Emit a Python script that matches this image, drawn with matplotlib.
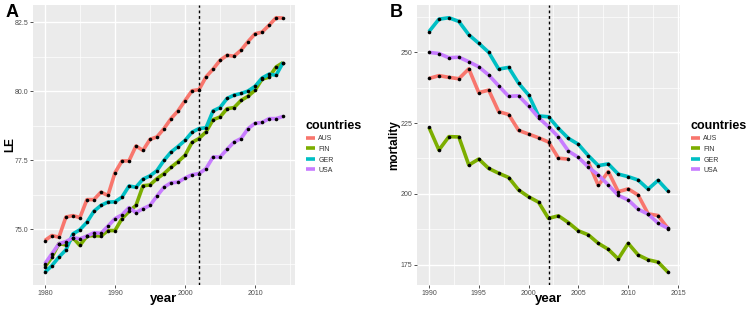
import numpy as np
import matplotlib
matplotlib.use("Agg")
from matplotlib import pyplot as plt
from matplotlib.ticker import FormatStrFormatter, MultipleLocator

countries = ['AUS', 'FIN', 'GER', 'USA']
colors = ['#F8766D', '#7CAE00', '#00BFC4', '#C77CFF']

# panel A: life expectancy 1980-2014
years_le = np.arange(1980, 2015)
le_aus = [74.6, 74.78, 74.72, 75.45, 75.5, 75.43, 76.08, 76.08, 76.35, 76.23,
          77.05, 77.48, 77.48, 78.02, 77.86, 78.26, 78.35, 78.65, 79.01, 79.29,
          79.66, 80.02, 80.06, 80.52, 80.8, 81.12, 81.3, 81.27, 81.49, 81.8,
          82.08, 82.14, 82.39, 82.66, 82.65]
le_fin = [73.64, 74.0, 74.49, 74.44, 74.7, 74.42, 74.76, 74.78, 74.76, 74.96,
          74.96, 75.39, 75.65, 75.87, 76.58, 76.61, 76.84, 77.02, 77.25, 77.45,
          77.68, 78.15, 78.29, 78.53, 78.97, 79.07, 79.37, 79.41, 79.67, 79.82,
          80.04, 80.44, 80.51, 80.88, 81.04]
le_ger = [73.45, 73.69, 74.0, 74.26, 74.84, 74.99, 75.26, 75.66, 75.87, 75.99,
          76.0, 76.17, 76.57, 76.53, 76.82, 76.94, 77.13, 77.5, 77.8, 78.0,
          78.22, 78.52, 78.65, 78.68, 79.29, 79.41, 79.74, 79.86, 79.92, 80.01,
          80.18, 80.48, 80.62, 80.58, 81.04]
le_usa = [73.76, 74.12, 74.48, 74.56, 74.7, 74.66, 74.76, 74.88, 74.86, 75.12,
          75.39, 75.53, 75.79, 75.61, 75.75, 75.87, 76.21, 76.53, 76.69, 76.71,
          76.86, 76.98, 77.02, 77.2, 77.62, 77.62, 77.9, 78.16, 78.29, 78.65,
          78.84, 78.87, 79.01, 79.01, 79.09]

# panel B: mortality 1990-2014 (AUS 2005 missing)
years_mo = np.arange(1990, 2015)
mo_aus = [240.7, 241.7, 241.1, 240.6, 244.1, 235.7, 236.6, 229.0, 228.0, 222.4,
          221.1, 219.8, 218.3, 212.6, 212.3, np.nan, 211.2, 203.0, 207.9, 200.8,
          201.8, 199.6, 193.0, 192.4, 187.8]
mo_fin = [223.5, 215.5, 220.2, 220.1, 210.2, 212.3, 209.0, 207.3, 205.8, 201.4,
          199.0, 197.1, 191.4, 192.3, 189.9, 187.0, 185.6, 182.6, 180.5, 177.1,
          182.6, 178.5, 176.8, 176.0, 172.4]
mo_ger = [257.2, 261.6, 262.1, 260.8, 256.1, 253.1, 249.9, 244.0, 244.6, 239.0,
          234.9, 227.5, 227.2, 223.1, 219.6, 217.5, 213.5, 210.0, 210.6, 207.0,
          206.1, 204.9, 201.7, 204.8, 201.0]
mo_usa = [249.9, 249.5, 248.0, 248.2, 246.6, 244.8, 241.9, 238.1, 234.4, 234.6,
          231.0, 226.9, 223.7, 220.1, 215.1, 212.9, 209.5, 206.7, 203.2, 199.5,
          197.9, 194.6, 192.9, 189.7, 187.9]

cut_year = 2002

plt.rcParams['font.family'] = ['Liberation Sans', 'DejaVu Sans']
fig = plt.figure(figsize=(7.48, 3.10), dpi=100)
fig.patch.set_facecolor('white')


def panel(rect, years, series, ylabel, letter, xmaj, ymaj, fmt):
    ax = fig.add_axes(rect)
    ax.set_facecolor('#EBEBEB')
    for s in ax.spines.values():
        s.set_visible(False)
    ax.xaxis.set_major_locator(MultipleLocator(xmaj))
    ax.xaxis.set_minor_locator(MultipleLocator(xmaj / 2))
    ax.yaxis.set_major_locator(MultipleLocator(ymaj))
    ax.yaxis.set_minor_locator(MultipleLocator(ymaj / 2))
    ax.yaxis.set_major_formatter(FormatStrFormatter(fmt))
    ax.grid(which='major', color='white', lw=1.0)
    ax.grid(which='minor', color='white', lw=0.5)
    ax.set_axisbelow(True)
    ax.tick_params(which='major', length=2, width=0.6, color='#333333',
                   labelsize=5, labelcolor='#4D4D4D', pad=1.5)
    ax.tick_params(which='minor', length=0)
    for vals, name, c in zip(series, countries, colors):
        ax.plot(years, vals, color=c, lw=2.6, label=name, solid_capstyle='butt')
    for vals in series:
        ax.plot(years, vals, 'o', color='black', ms=2.6, mew=0)
    ax.axvline(cut_year, color='black', lw=1.0, ls=(0, (2, 2)))
    ax.margins(x=0.05, y=0.05)
    ax.set_xlabel('year', fontsize=9.5, fontweight='bold')
    ax.set_ylabel(ylabel, fontsize=8.5, fontweight='bold')
    ax.xaxis.set_label_coords(0.5, -0.05, transform=ax.transAxes)
    ax.xaxis.label.set_va('center')
    ax.yaxis.set_label_coords(-0.086, 0.5, transform=ax.transAxes)
    ax.yaxis.label.set_va('center')
    leg = ax.legend(loc='upper left', bbox_to_anchor=(1.03, 0.60), frameon=False,
                    title='countries', fontsize=5, handlelength=1.4,
                    handleheight=1.0, labelspacing=0.45, borderaxespad=0,
                    handletextpad=0.4)
    leg.get_title().set_fontsize(9)
    leg.get_title().set_fontweight('bold')
    leg._legend_box.align = 'left'
    for t in leg.get_texts():
        t.set_color('#333333')
    fig.text(rect[0] - 0.037, 0.96, letter, fontsize=13, fontweight='bold',
             ha='left', va='center')
    return ax


ax1 = panel([0.0441, 0.0806, 0.3503, 0.9032], years_le,
            [le_aus, le_fin, le_ger, le_usa], 'LE', 'A', 10, 2.5, '%.1f')
ax2 = panel([0.5575, 0.0806, 0.3516, 0.9032], years_mo,
            [mo_aus, mo_fin, mo_ger, mo_usa], 'mortality', 'B', 5, 25, '%d')

fig.savefig('out.png', dpi=100)
